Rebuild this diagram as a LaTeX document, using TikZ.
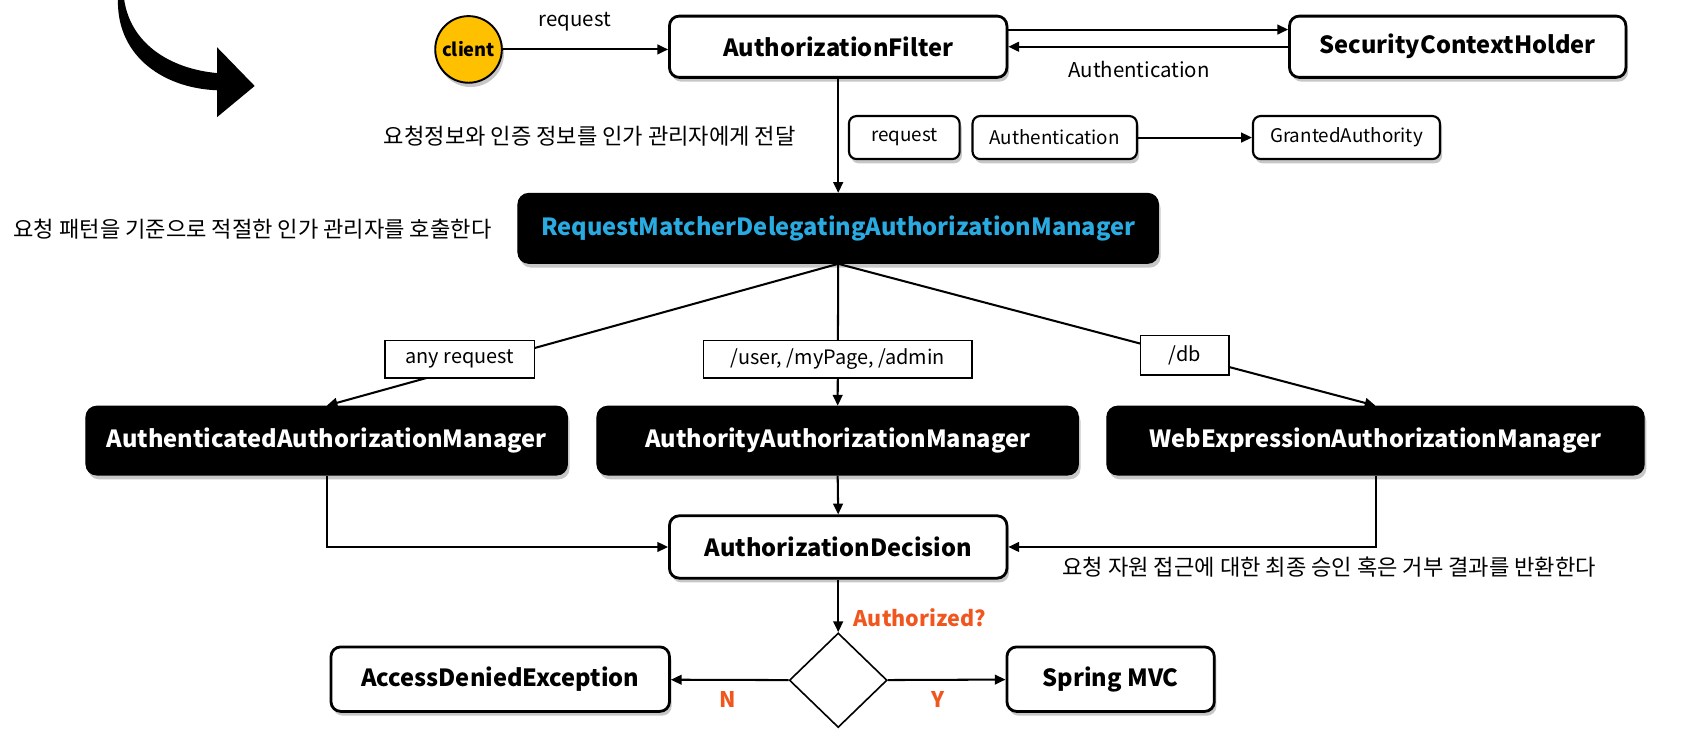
\documentclass[tikz,border=0pt]{standalone}
\usepackage{fontspec}
\setmainfont{Noto Sans CJK KR}
\usetikzlibrary{arrows.meta,shapes.geometric,shadows}
\definecolor{cblue}{HTML}{29ABE2}
\definecolor{corange}{HTML}{F0561E}
\definecolor{cyellow}{HTML}{FFC000}
\tikzset{
  shd/.style={drop shadow={shadow xshift=2pt,shadow yshift=-4pt,opacity=0.22,fill=black}},
  wbox/.style={draw=black,line width=2.6pt,rounded corners=9pt,fill=white,shd,font=\fontsize{22}{26}\selectfont\bfseries,inner sep=0pt},
  bbox/.style={draw=black,fill=black,line width=1pt,rounded corners=10pt,shd,text=white,font=\fontsize{22}{26}\selectfont\bfseries,inner sep=0pt},
  sbox/.style={draw=black,line width=2pt,rounded corners=7pt,fill=white,shd,font=\fontsize{17.5}{20}\selectfont,inner sep=0pt,minimum height=40pt},
  lbox/.style={draw=black,line width=1.4pt,fill=white,font=\fontsize{18.5}{21}\selectfont,inner sep=0pt,minimum height=35pt},
  arr/.style={line width=1.9pt,-{Triangle[length=10pt,width=9pt]}},
  plain/.style={font=\fontsize{19}{22}\selectfont},
  kor/.style={font=\fontsize{20.6}{24}\selectfont},
  orng/.style={text=corange,font=\fontsize{20}{24}\selectfont\bfseries},
}
\begin{document}
\begin{tikzpicture}[x=1pt,y=-1pt]
\useasboundingbox (0,0) rectangle (1568,680);
% curved arrow
\begin{scope}
\clip (0,0) rectangle (1568,680);
\fill[black] (110,-5) .. controls (106,50) and (150,82) .. (202,84) -- (202,109) -- (237,80) -- (202,44) -- (202,68) .. controls (158,64) and (119,40) .. (115,-5) -- cycle;
\end{scope}
% top row
\node[circle,draw=black,line width=1.8pt,fill=cyellow,minimum size=62pt,inner sep=0pt,shd,font=\fontsize{17}{20}\selectfont\bfseries] (client) at (436,46) {client};
\node[wbox,minimum width=314pt,minimum height=57pt] (af) at (780,43.5) {AuthorizationFilter};
\node[wbox,minimum width=313pt,minimum height=57pt] (sch) at (1356.5,43.5) {SecurityContextHolder};
\node[plain] (lreq) at (535,20) {request};
\node[plain] (lauth) at (1060,65) {Authentication};
\draw[arr] (client) -- (af.west |- client);
\draw[arr] ([yshift=16pt]af.east) -- ([yshift=16pt]sch.west);
\draw[arr] (sch.west) -- (af.east);
% info row
\node[kor,anchor=east] (k1) at (744,127) {요청정보와 인증 정보를 인가 관리자에게 전달};
\node[sbox,minimum width=103pt] (sreq) at (841.5,128) {request};
\node[sbox,minimum width=153pt] (sauth) at (981.5,128) {Authentication};
\node[sbox,minimum width=174pt] (sga) at (1253,128) {GrantedAuthority};
\draw[arr] (sauth) -- (sga);
% delegating manager
\node[kor] (k2) at (235,213) {요청 패턴을 기준으로 적절한 인가 관리자를 호출한다};
\node[bbox,minimum width=596pt,minimum height=65pt,text=cblue,font=\fontsize{22}{26}\selectfont\bfseries] (rm) at (780,212.5) {RequestMatcherDelegatingAuthorizationManager};
\draw[arr] (af) -- (rm);
% managers
\node[bbox,minimum width=448pt,minimum height=64pt] (aam) at (304,410) {AuthenticatedAuthorizationManager};
\node[bbox,minimum width=448pt,minimum height=64pt] (tam) at (779.5,410) {AuthorityAuthorizationManager};
\node[bbox,minimum width=500pt,minimum height=64pt] (wam) at (1280,410) {WebExpressionAuthorizationManager};
\draw[arr] (rm.south) -- node[lbox,pos=0.74,yshift=9pt,minimum width=139pt] (lany) {any request} (aam.north);
\draw[arr] (rm.south) -- node[lbox,pos=0.673,minimum width=250pt] (luser) {/user, /myPage, /admin} (tam.north);
\draw[arr] (rm.south) -- node[lbox,pos=0.645,minimum width=82pt,minimum height=37pt] (ldb) {/db} (wam.north);
% decision
\node[wbox,minimum width=314pt,minimum height=58pt] (ad) at (780,509) {AuthorizationDecision};
\draw[arr] (aam.south) |- (ad.west);
\draw[arr] (tam.south) -- (ad.north);
\draw[arr] (wam.south) |- (ad.east);
\node[kor] (k3) at (1237,528) {요청 자원 접근에 대한 최종 승인 혹은 거부 결과를 반환한다};
% outcome
\node[diamond,draw=black,line width=1.5pt,fill=white,minimum width=91pt,minimum height=88pt,inner sep=0pt] (dia) at (780,633) {};
\node[orng] (lq) at (856,575) {Authorized?};
\node[wbox,minimum width=315pt,minimum height=60pt] (ade) at (465.5,632) {AccessDeniedException};
\node[wbox,minimum width=193pt,minimum height=60pt] (mvc) at (1033.5,632) {Spring MVC};
\draw[arr] (ad) -- (dia);
\draw[arr] (dia) -- (ade);
\draw[arr] (dia) -- (mvc);
\node[orng] (ln) at (677,651) {N};
\node[orng] (ly) at (873,651) {Y};
\end{tikzpicture}
\end{document}
